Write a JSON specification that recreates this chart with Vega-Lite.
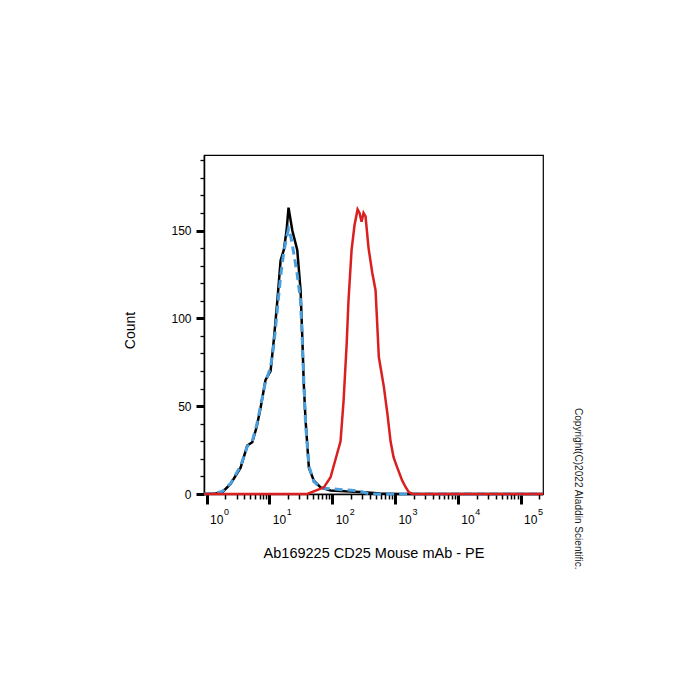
{
  "$schema": "https://vega.github.io/schema/vega-lite/v6.json",
  "width": 339,
  "height": 339,
  "autosize": {"type": "none"},
  "padding": {"left": 204, "top": 155, "right": 157, "bottom": 206},
  "background": "white",
  "config": {
    "font": "Liberation Sans",
    "view": {"stroke": "black", "strokeWidth": 1.2},
    "axis": {"grid": false}
  },
  "title": {
    "text": "Copyright(C)2022 Aladdin Scientific.",
    "orient": "right",
    "angle": 90,
    "anchor": "end",
    "frame": "bounds",
    "fontSize": 10.1,
    "fontWeight": "normal",
    "color": "#222222",
    "offset": 24,
    "dx": 10
  },
  "resolve": {"axis": {"x": "independent"}},
  "data": {
    "values": [
      {"s": "Unstained", "fl": 0.92, "count": 0},
      {"s": "Unstained", "fl": 1.39, "count": 0.3},
      {"s": "Unstained", "fl": 1.78, "count": 1},
      {"s": "Unstained", "fl": 2.41, "count": 5.7},
      {"s": "Unstained", "fl": 3.48, "count": 15},
      {"s": "Unstained", "fl": 4.45, "count": 27.6},
      {"s": "Unstained", "fl": 5.34, "count": 29.5},
      {"s": "Unstained", "fl": 6.26, "count": 38},
      {"s": "Unstained", "fl": 7.24, "count": 49},
      {"s": "Unstained", "fl": 8.69, "count": 65},
      {"s": "Unstained", "fl": 10.45, "count": 70},
      {"s": "Unstained", "fl": 11.8, "count": 88},
      {"s": "Unstained", "fl": 13.4, "count": 110},
      {"s": "Unstained", "fl": 15.1, "count": 133},
      {"s": "Unstained", "fl": 17.0, "count": 139},
      {"s": "Unstained", "fl": 18.8, "count": 150},
      {"s": "Unstained", "fl": 20.2, "count": 163},
      {"s": "Unstained", "fl": 23.2, "count": 150},
      {"s": "Unstained", "fl": 27.8, "count": 139},
      {"s": "Unstained", "fl": 31.4, "count": 116},
      {"s": "Unstained", "fl": 33.4, "count": 90},
      {"s": "Unstained", "fl": 35.4, "count": 62},
      {"s": "Unstained", "fl": 37.7, "count": 42},
      {"s": "Unstained", "fl": 42.6, "count": 15},
      {"s": "Unstained", "fl": 51.1, "count": 7.6},
      {"s": "Unstained", "fl": 65.4, "count": 3.8},
      {"s": "Unstained", "fl": 94.3, "count": 2},
      {"s": "Unstained", "fl": 163, "count": 1.5},
      {"s": "Unstained", "fl": 283, "count": 1.2},
      {"s": "Unstained", "fl": 590, "count": 0.3},
      {"s": "Unstained", "fl": 1228, "count": 0},
      {"s": "Unstained", "fl": 228000, "count": 0},
      {"s": "Isotype", "fl": 0.92, "count": 0},
      {"s": "Isotype", "fl": 1.39, "count": 0.5},
      {"s": "Isotype", "fl": 1.78, "count": 1.5},
      {"s": "Isotype", "fl": 2.41, "count": 6},
      {"s": "Isotype", "fl": 3.48, "count": 16},
      {"s": "Isotype", "fl": 4.45, "count": 27},
      {"s": "Isotype", "fl": 5.34, "count": 30},
      {"s": "Isotype", "fl": 6.26, "count": 39},
      {"s": "Isotype", "fl": 7.24, "count": 50},
      {"s": "Isotype", "fl": 8.69, "count": 64},
      {"s": "Isotype", "fl": 10.45, "count": 72},
      {"s": "Isotype", "fl": 11.8, "count": 85},
      {"s": "Isotype", "fl": 13.4, "count": 105},
      {"s": "Isotype", "fl": 15.1, "count": 124},
      {"s": "Isotype", "fl": 17.0, "count": 138},
      {"s": "Isotype", "fl": 18.8, "count": 146},
      {"s": "Isotype", "fl": 20.2, "count": 151},
      {"s": "Isotype", "fl": 21.5, "count": 148},
      {"s": "Isotype", "fl": 23.2, "count": 142},
      {"s": "Isotype", "fl": 27.8, "count": 125},
      {"s": "Isotype", "fl": 31.4, "count": 110},
      {"s": "Isotype", "fl": 33.4, "count": 88},
      {"s": "Isotype", "fl": 35.4, "count": 64},
      {"s": "Isotype", "fl": 37.7, "count": 40},
      {"s": "Isotype", "fl": 42.6, "count": 16},
      {"s": "Isotype", "fl": 51.1, "count": 7},
      {"s": "Isotype", "fl": 65.4, "count": 3.5},
      {"s": "Isotype", "fl": 94.3, "count": 3},
      {"s": "Isotype", "fl": 130, "count": 2.6},
      {"s": "Isotype", "fl": 200, "count": 2.2},
      {"s": "Isotype", "fl": 283, "count": 1.5},
      {"s": "Isotype", "fl": 400, "count": 0},
      {"s": "Isotype", "fl": 1228, "count": 0},
      {"s": "Isotype", "fl": 228000, "count": 0},
      {"s": "CD25", "fl": 0.92, "count": 0},
      {"s": "CD25", "fl": 40.1, "count": 0},
      {"s": "CD25", "fl": 73.8, "count": 3.8},
      {"s": "CD25", "fl": 94.3, "count": 9.5},
      {"s": "CD25", "fl": 128, "count": 26.6},
      {"s": "CD25", "fl": 136, "count": 30},
      {"s": "CD25", "fl": 152, "count": 53},
      {"s": "CD25", "fl": 170, "count": 85},
      {"s": "CD25", "fl": 182, "count": 110},
      {"s": "CD25", "fl": 204, "count": 139},
      {"s": "CD25", "fl": 227, "count": 153},
      {"s": "CD25", "fl": 254, "count": 162},
      {"s": "CD25", "fl": 273, "count": 160},
      {"s": "CD25", "fl": 294, "count": 155},
      {"s": "CD25", "fl": 316, "count": 160},
      {"s": "CD25", "fl": 340, "count": 158},
      {"s": "CD25", "fl": 380, "count": 140},
      {"s": "CD25", "fl": 435, "count": 126},
      {"s": "CD25", "fl": 491, "count": 116},
      {"s": "CD25", "fl": 554, "count": 78},
      {"s": "CD25", "fl": 666, "count": 61},
      {"s": "CD25", "fl": 762, "count": 45},
      {"s": "CD25", "fl": 851, "count": 30},
      {"s": "CD25", "fl": 950, "count": 21},
      {"s": "CD25", "fl": 1089, "count": 15},
      {"s": "CD25", "fl": 1307, "count": 7.6},
      {"s": "CD25", "fl": 1475, "count": 4},
      {"s": "CD25", "fl": 1663, "count": 1},
      {"s": "CD25", "fl": 1906, "count": 0},
      {"s": "CD25", "fl": 228000, "count": 0}
    ]
  },
  "encoding": {
    "y": {
      "field": "count",
      "type": "quantitative",
      "scale": {"domain": [0, 193], "nice": false, "zero": false},
      "axis": {
        "title": "Count",
        "titleFontSize": 14,
        "titleFontWeight": "normal",
        "titleColor": "black",
        "titlePadding": 33,
        "titleY": 175,
        "values": [0,10,20,30,40,50,60,70,80,90,100,110,120,130,140,150,160,170,180,190],
        "labelExpr": "datum.value % 50 === 0 ? datum.label : ''",
        "labelFontSize": 12,
        "labelColor": "black",
        "labelPadding": 5,
        "labelOverlap": false,
        "labelFlush": false,
        "domainColor": "black",
        "domainWidth": 1.5,
        "tickColor": "black",
        "tickSize": {"condition": {"test": "datum.value % 50 === 0", "value": 8}, "value": 4},
        "tickWidth": {"condition": {"test": "datum.value % 50 === 0", "value": 3}, "value": 1.3}
      }
    }
  },
  "layer": [
    {
      "transform": [{"filter": "datum.s === 'Unstained'"}],
      "mark": {"type": "line", "color": "black", "strokeWidth": 2.5},
      "encoding": {
        "x": {
          "field": "fl",
          "type": "quantitative",
          "scale": {"type": "log", "domain": [0.91, 228000], "nice": false},
          "axis": {
            "orient": "bottom",
            "title": "Ab169225 CD25 Mouse mAb - PE",
            "titleFontSize": 14.5,
            "titleFontWeight": "normal",
            "titleColor": "black",
            "titlePadding": 21,
            "values": [1,2,3,4,5,6,7,8,9,10,20,30,40,50,60,70,80,90,100,200,300,400,500,600,700,800,900,1000,2000,3000,4000,5000,6000,7000,8000,9000,10000,20000,30000,40000,50000,60000,70000,80000,90000,100000,200000],
            "labelExpr": "abs(log(datum.value)/LN10 - round(log(datum.value)/LN10)) < 0.001 ? '10' : ''",
            "labelAlign": "left",
            "labelOffset": 3,
            "labelFontSize": 12,
            "labelColor": "black",
            "labelPadding": 10,
            "labelFlush": false,
            "labelOverlap": false,
            "domainColor": "black",
            "domainWidth": 1.5,
            "tickColor": "black",
            "tickSize": {"condition": {"test": "abs(log(datum.value)/LN10 - round(log(datum.value)/LN10)) < 0.001", "value": 10}, "value": 5},
            "tickWidth": {"condition": {"test": "abs(log(datum.value)/LN10 - round(log(datum.value)/LN10)) < 0.001", "value": 3}, "value": 1.5}
          }
        }
      }
    },
    {
      "transform": [{"filter": "datum.s === 'Isotype'"}],
      "mark": {"type": "line", "color": "#4a9edb", "strokeWidth": 3, "strokeDash": [8, 5]},
      "encoding": {
        "x": {"field": "fl", "type": "quantitative", "scale": {"type": "log", "domain": [0.91, 228000], "nice": false}, "axis": null}
      }
    },
    {
      "transform": [{"filter": "datum.s === 'CD25'"}],
      "mark": {"type": "line", "color": "#d91f1f", "strokeWidth": 2.5},
      "encoding": {
        "x": {
          "field": "fl",
          "type": "quantitative",
          "scale": {"type": "log", "domain": [0.91, 228000], "nice": false},
          "axis": {
            "orient": "bottom",
            "title": null,
            "domain": false,
            "values": [1, 10, 100, 1000, 10000, 100000],
            "labelExpr": "'' + round(log(datum.value)/LN10)",
            "labelAlign": "left",
            "labelOffset": 17,
            "labelFontSize": 9,
            "labelColor": "black",
            "labelPadding": 3,
            "labelFlush": false,
            "labelOverlap": false,
            "tickSize": 10,
            "tickOpacity": 0
          }
        }
      }
    }
  ]
}
